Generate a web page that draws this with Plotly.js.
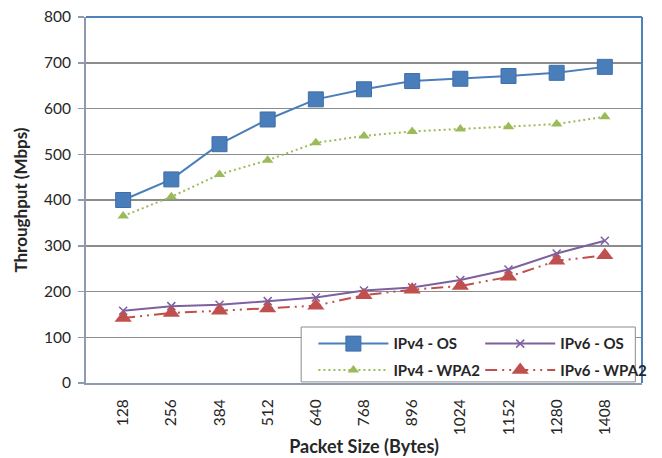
<!DOCTYPE html>
<html>
<head>
<meta charset="utf-8">
<script src="https://cdn.plot.ly/plotly-3.0.1.min.js"></script>
<style>html,body{margin:0;padding:0;background:#fff;}#chart{width:662px;height:458px;}</style>
</head>
<body>
<div id="chart"></div>
<script>
const packetSizes = ["128","256","384","512","640","768","896","1024","1152","1280","1408"];
const ipv4OS   = [400, 445, 522, 576, 620, 642, 660, 665, 671, 678, 691];
const ipv4WPA2 = [365, 407, 456, 487, 525, 540, 550, 555, 560, 566, 582];
const ipv6OS   = [158, 168, 171, 179, 187, 202, 209, 225, 248, 283, 311];
const ipv6WPA2 = [142, 153, 158, 163, 169, 192, 204, 212, 232, 267, 279];
const seriesNames = ["IPv4 - OS", "IPv4 - WPA2", "IPv6 - OS", "IPv6 - WPA2"];
const yTicks = [0, 100, 200, 300, 400, 500, 600, 700, 800];

const FONT = "Lato, 'Open Sans', sans-serif";

const traces = [
  {x: packetSizes, y: ipv4OS, name: seriesNames[0], type: "scatter", mode: "lines+markers",
   line: {color: "#4a7ebb", width: 2},
   marker: {symbol: "square", size: 15, color: "#4a7ebb", line: {color: "#3f6fa8", width: 1}},
   legend: "legend", legendgroup: "a"},
  {x: packetSizes, y: ipv4WPA2, name: seriesNames[1], type: "scatter", mode: "lines+markers",
   line: {color: "#9bbb59", width: 2, dash: "2px,3px"},
   marker: {symbol: "triangle-up", size: 10, color: "#9bbb59"},
   legend: "legend", legendgroup: "b"},
  {x: packetSizes, y: ipv6OS, name: seriesNames[2], type: "scatter", mode: "lines+markers",
   line: {color: "#7d60a0", width: 2},
   marker: {symbol: "x-thin", size: 8, color: "#7d60a0", line: {color: "#7d60a0", width: 1.5}},
   legend: "legend2", legendgroup: "c"},
  {x: packetSizes, y: ipv6WPA2, name: seriesNames[3], type: "scatter", mode: "lines+markers",
   line: {color: "#c0504d", width: 2, dash: "12px,5px,2px,5px,2px,5px"},
   marker: {symbol: "triangle-up", size: 15, color: "#c0504d"},
   legend: "legend2", legendgroup: "d"}
];

const legendCommon = {
  yanchor: "top", xanchor: "left",
  orientation: "v", bgcolor: "rgba(0,0,0,0)", borderwidth: 0,
  itemwidth: 70, tracegroupgap: 4,
  font: {family: FONT, size: 15, color: "#262626", weight: "bold"}
};

const layout = {
  width: 662, height: 458,
  margin: {l: 86, r: 10, t: 17, b: 75},
  paper_bgcolor: "#ffffff", plot_bgcolor: "#ffffff",
  font: {family: FONT, size: 15, color: "#262626"},
  showlegend: true,
  xaxis: {
    type: "category",
    tickangle: -90,
    showgrid: false,
    showline: true, linecolor: "#8e9aae", linewidth: 2,
    ticks: "", ticklabelstandoff: 8,
    tickfont: {family: FONT, size: 15.5, color: "#262626"},
    title: {text: "Packet Size (Bytes)", font: {family: FONT, size: 18, color: "#262626", weight: "bold"}, standoff: 6},
    zeroline: false
  },
  yaxis: {
    range: [0, 800],
    tickvals: yTicks,
    ticktext: yTicks.map(String),
    showgrid: true, gridcolor: "#8c8c8c", gridwidth: 1.5,
    showline: true, linecolor: "#8e9aae", linewidth: 2,
    ticks: "outside", ticklen: 6, tickcolor: "#8e9aae", tickwidth: 1.5,
    ticklabelstandoff: 4,
    tickfont: {family: FONT, size: 15.5, color: "#262626"},
    title: {text: "Throughput (Mbps)", font: {family: FONT, size: 17, color: "#262626", weight: "bold"}, standoff: 12},
    zeroline: false
  },
  shapes: [
    {type: "line", xref: "paper", yref: "paper", x0: 0, x1: 1, y0: 1, y1: 1, line: {color: "#4f81bd", width: 2}},
    {type: "line", xref: "paper", yref: "paper", x0: 1, x1: 1, y0: 0, y1: 1, line: {color: "#4f81bd", width: 2}},
    {type: "rect", xref: "paper", yref: "paper", x0: 0.387, x1: 0.988, y0: 0.003, y1: 0.153,
     fillcolor: "#ffffff", line: {color: "#8c8c8c", width: 1}, layer: "above"}
  ],
  legend: Object.assign({}, legendCommon, {x: 0.409, y: 0.152}),
  legend2: Object.assign({}, legendCommon, {x: 0.709, y: 0.152})
};

Plotly.newPlot("chart", traces, layout, {displayModeBar: false, staticPlot: true});
</script>
</body>
</html>
